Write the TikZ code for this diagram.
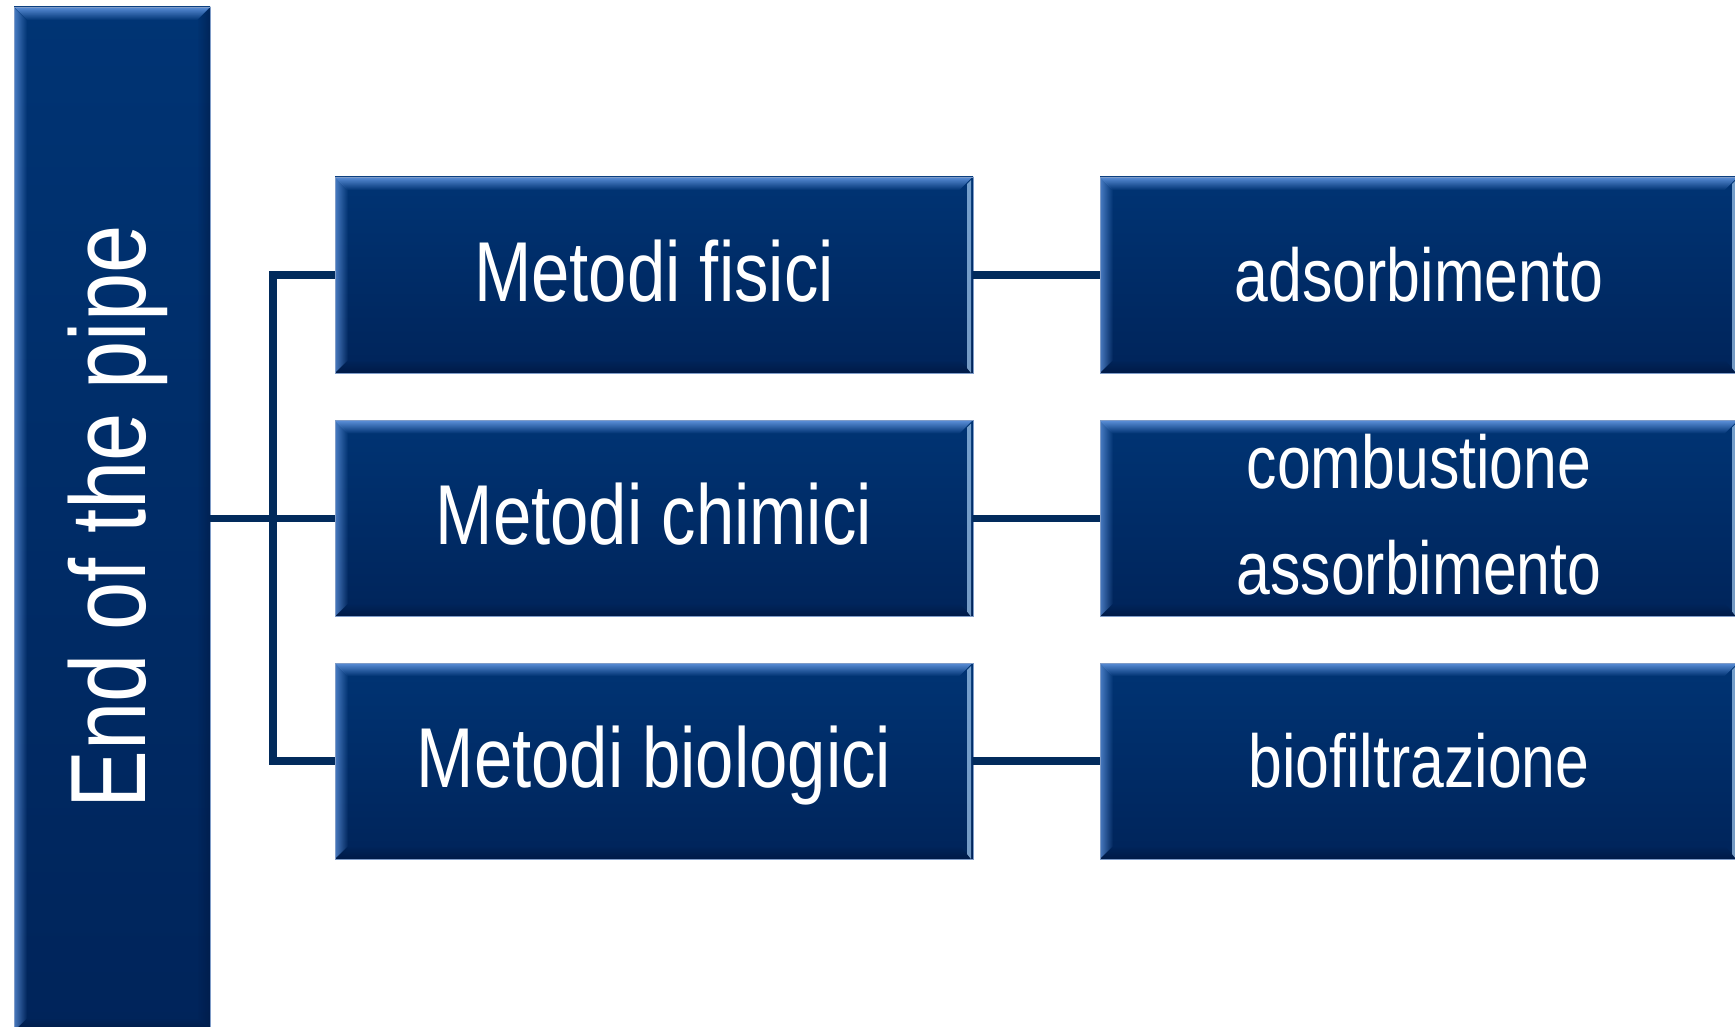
\documentclass[tikz,border=0pt]{standalone}
\usepackage{fontspec}
\setmainfont[FakeStretch=0.81]{Liberation Sans}
\usetikzlibrary{fadings}
\definecolor{boxtop}{HTML}{003474}
\definecolor{boxbot}{HTML}{00245A}
\definecolor{bevlight}{HTML}{5B8FD8}
\definecolor{bevdark}{HTML}{00173F}
\definecolor{edgelight}{HTML}{A6CDF2}
\definecolor{conncol}{HTML}{022B5C}
\definecolor{outline}{HTML}{7F9CC8}
\tikzfading[name=fadeR, left color=transparent!0, right color=transparent!100]
\tikzfading[name=fadeL, left color=transparent!100, right color=transparent!0]
\tikzfading[name=fadeD, top color=transparent!0, bottom color=transparent!100]
\tikzfading[name=fadeU, top color=transparent!100, bottom color=transparent!0]
\tikzset{
  bevelbox/.style={rectangle, inner sep=0pt, top color=boxtop, bottom color=boxbot,
    draw=outline, line width=0.7pt,
    path picture={
      \path (path picture bounding box.north west) coordinate (pNW)
            (path picture bounding box.north east) coordinate (pNE)
            (path picture bounding box.south west) coordinate (pSW)
            (path picture bounding box.south east) coordinate (pSE);
      \fill[bevlight, path fading=fadeD] (pNW) -- (pNE) -- ([xshift=-13pt,yshift=-13pt]pNE) -- ([xshift=13pt,yshift=-13pt]pNW) -- cycle;
      \fill[bevlight, opacity=0.8, path fading=fadeR] (pNW) -- ([xshift=13pt,yshift=-13pt]pNW) -- ([xshift=13pt,yshift=13pt]pSW) -- (pSW) -- cycle;
      \fill[bevdark, opacity=0.7, path fading=fadeU] (pSW) -- (pSE) -- ([xshift=-13pt,yshift=13pt]pSE) -- ([xshift=13pt,yshift=13pt]pSW) -- cycle;
      \fill[bevdark, opacity=0.5, path fading=fadeL] (pNE) -- ([xshift=-13pt,yshift=-13pt]pNE) -- ([xshift=-13pt,yshift=13pt]pSE) -- (pSE) -- cycle;
    }},
  lightedge/.style={bevelbox, path picture={
      \path (path picture bounding box.north west) coordinate (pNW)
            (path picture bounding box.north east) coordinate (pNE)
            (path picture bounding box.south west) coordinate (pSW)
            (path picture bounding box.south east) coordinate (pSE);
      \fill[bevlight, path fading=fadeD] (pNW) -- (pNE) -- ([xshift=-13pt,yshift=-13pt]pNE) -- ([xshift=13pt,yshift=-13pt]pNW) -- cycle;
      \fill[bevlight, opacity=0.8, path fading=fadeR] (pNW) -- ([xshift=13pt,yshift=-13pt]pNW) -- ([xshift=13pt,yshift=13pt]pSW) -- (pSW) -- cycle;
      \fill[bevdark, opacity=0.7, path fading=fadeU] (pSW) -- (pSE) -- ([xshift=-13pt,yshift=13pt]pSE) -- ([xshift=13pt,yshift=13pt]pSW) -- cycle;
      \fill[edgelight, opacity=0.7] ([xshift=-6pt,yshift=-7pt]pNE) -- ([xshift=-2pt,yshift=-3pt]pNE) -- ([xshift=-2pt]pSE) -- ([xshift=-6pt,yshift=5pt]pSE) -- cycle;
    }},
  midbox/.style={lightedge, minimum width=638pt, minimum height=196pt},
  conn/.style={draw=conncol, line width=7.5pt, line join=miter},
  midtxt/.style={text=white, inner sep=0pt, anchor=base, font=\fontsize{85pt}{100pt}\selectfont},
  righttxt/.style={text=white, inner sep=0pt, anchor=base, font=\fontsize{75pt}{90pt}\selectfont},
  bartxt/.style={text=white, inner sep=0pt, anchor=base, rotate=90, font=\fontsize{107pt}{120pt}\selectfont}
}
\begin{document}
\begin{tikzpicture}[x=1pt,y=-1pt]
\useasboundingbox (0,0) rectangle (1735,1027);
\fill[white] (0,0) rectangle (1735,1027);

\coordinate (bus) at (273,518.5);

\node[midbox] (m1) at (654,275) {};
\node[midbox] (m2) at (654,518.5) {};
\node[midbox] (m3) at (654,761) {};
\node[midbox] (r1) at (1419,275) {};
\node[midbox] (r2) at (1419,518.5) {};
\node[midbox] (r3) at (1419,761) {};
\node[bevelbox, minimum width=196pt, minimum height=1024pt] (bar) at (112,519) {};

\draw[conn] (m1.west) -- (m1.west -| bus) -- (m3.west -| bus) -- (m3.west);
\draw[conn] (bar.east |- m2.west) -- (m2.west);
\draw[conn] (m1.east) -- (r1.west);
\draw[conn] (m2.east) -- (r2.west);
\draw[conn] (m3.east) -- (r3.west);

\node[bartxt] (tbar) at (145,517) {End of the pipe};
\node[midtxt] (t1) at ([yshift=-26pt]m1.center) {Metodi fisici};
\node[midtxt] (t2) at ([yshift=-26pt]m2.center) {Metodi chimici};
\node[midtxt] (t3) at ([yshift=-26pt]m3.center) {Metodi biologici};
\node[righttxt] (u1) at ([yshift=-26pt]r1.center) {adsorbimento};
\node[righttxt] (u2a) at ([yshift=30pt]r2.center) {combustione};
\node[righttxt] (u2b) at ([yshift=-76pt]r2.center) {assorbimento};
\node[righttxt] (u3) at ([yshift=-26pt]r3.center) {biofiltrazione};
\end{tikzpicture}
\end{document}
